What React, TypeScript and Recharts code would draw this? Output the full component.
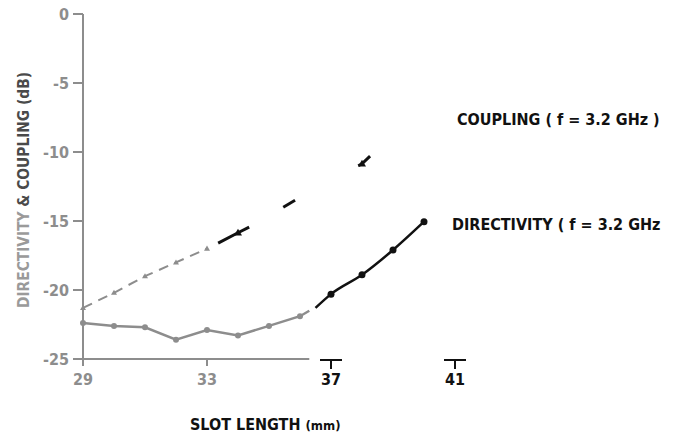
import { ComposedChart, Line, ReferenceLine, XAxis, YAxis } from 'recharts'

// values (slot length in mm, level in dB)
const scanSlots = [29, 30, 31, 32, 33, 34, 35, 36, 36.3]
const directivityScan = [-22.4, -22.6, -22.7, -23.6, -22.9, -23.3, -22.6, -21.9, -21.5]

const inkSlots = [36.5, 37, 38, 39, 40]
const directivityInk = [-21.3, -20.3, -18.9, -17.1, -15.05]

const couplingSlots = [29, 30, 31, 32, 33]
const couplingScan = [-21.3, -20.2, -19.0, -18.0, -17.0]

// faint photocopy: only a few dark fragments of the coupling curve survive
const couplingFragments = [
  { slots: [33.36, 34, 34.36], values: [-16.6, -15.85, -15.45] },
  { slots: [35.46, 35.84], values: [-14.0, -13.5] },
  { slots: [37.88, 38, 38.26], values: [-11.0, -10.85, -10.3] },
]

const xTicks = [29, 33, 37, 41]
const yTicks = [0, -5, -10, -15, -20, -25]
const axisEnd = 36.3

const GRAY = '#8d8d8d'
const INK = '#111111'
const FONT = '"DejaVu Sans Condensed", "DejaVu Sans", sans-serif'

const toRows = (xs: number[], ys: number[]) => xs.map((slot, i) => ({ slot, db: ys[i] }))

const directivityScanRows = toRows(scanSlots, directivityScan)
const directivityInkRows = toRows(inkSlots, directivityInk)
const couplingScanRows = toRows(couplingSlots, couplingScan)
const fragmentRows = couplingFragments.map((f) => toRows(f.slots, f.values))

function roundDot(color: string, r: number) {
  return (props: any) => {
    const { cx, cy, payload, index } = props
    if (!Number.isInteger(payload.slot)) return <g key={`d-${index}`} />
    return <circle key={`d-${index}`} cx={cx} cy={cy} r={r} fill={color} />
  }
}

function triangleDot(color: string, s: number) {
  return (props: any) => {
    const { cx, cy, payload, index } = props
    if (!Number.isInteger(payload.slot)) return <g key={`t-${index}`} />
    return (
      <path
        key={`t-${index}`}
        d={`M ${cx} ${cy - s} L ${cx + s} ${cy + s * 0.7} L ${cx - s} ${cy + s * 0.7} Z`}
        fill={color}
      />
    )
  }
}

function SlotTick(props: any) {
  const { x, y, payload } = props
  const v = payload.value as number
  const dark = v >= 37
  const color = dark ? INK : GRAY
  return (
    <g>
      {dark ? (
        <path
          d={`M ${x - 11} ${y + 1} L ${x + 11} ${y + 1} M ${x} ${y + 1} L ${x} ${y + 10}`}
          stroke={INK}
          strokeWidth={2}
          fill="none"
        />
      ) : (
        <path d={`M ${x} ${y} L ${x} ${y + 7}`} stroke={GRAY} strokeWidth={2} />
      )}
      <text
        x={x}
        y={y + 26}
        textAnchor="middle"
        fill={color}
        fontFamily={FONT}
        fontWeight="bold"
        fontSize={16}
      >
        {v}
      </text>
    </g>
  )
}

function LevelTick(props: any) {
  const { x, y, payload } = props
  const v = payload.value as number
  return (
    <text
      x={x}
      y={y + 6}
      textAnchor="end"
      fill={GRAY}
      fontFamily={FONT}
      fontWeight="bold"
      fontSize={16}
    >
      {v === 0 ? '0' : `-${Math.abs(v)}`}
    </text>
  )
}

export default function App() {
  return (
    <div style={{ position: 'absolute', left: 0, top: 0, width: 673, height: 435, background: '#fff' }}>
      <ComposedChart
        width={673}
        height={435}
        margin={{ top: 14, right: 218, bottom: 46, left: 0 }}
      >
        <XAxis
          type="number"
          dataKey="slot"
          domain={[29, 41]}
          ticks={xTicks}
          axisLine={false}
          tickLine={false}
          tickSize={0}
          tickMargin={0}
          height={30}
          tick={<SlotTick />}
          allowDuplicatedCategory={false}
        />
        <YAxis
          type="number"
          domain={[-25, 0]}
          ticks={yTicks}
          width={83}
          axisLine={{ stroke: GRAY, strokeWidth: 2 }}
          tickLine={{ stroke: GRAY, strokeWidth: 2 }}
          tickSize={10}
          tickMargin={4}
          tick={<LevelTick />}
        />
        <ReferenceLine
          segment={[
            { x: 29, y: -25 },
            { x: axisEnd, y: -25 },
          ]}
          stroke={GRAY}
          strokeWidth={2}
        />
        <Line
          data={couplingScanRows}
          dataKey="db"
          stroke={GRAY}
          strokeWidth={2}
          strokeDasharray="10 7"
          dot={triangleDot(GRAY, 3)}
          activeDot={false}
          isAnimationActive={false}
        />
        {fragmentRows.map((rows, i) => (
          <Line
            key={`frag-${i}`}
            data={rows}
            dataKey="db"
            stroke={INK}
            strokeWidth={3}
            dot={triangleDot(INK, 4)}
            activeDot={false}
            isAnimationActive={false}
          />
        ))}
        <Line
          data={directivityScanRows}
          dataKey="db"
          stroke={GRAY}
          strokeWidth={2.5}
          dot={roundDot(GRAY, 3)}
          activeDot={false}
          isAnimationActive={false}
        />
        <Line
          data={directivityInkRows}
          dataKey="db"
          type="monotone"
          stroke={INK}
          strokeWidth={2.5}
          dot={roundDot(INK, 3.5)}
          activeDot={false}
          isAnimationActive={false}
        />
      </ComposedChart>
      <svg
        width={673}
        height={435}
        style={{ position: 'absolute', left: 0, top: 0, pointerEvents: 'none' }}
        fontFamily={FONT}
        fontWeight="bold"
      >
        <text
          transform="translate(29, 190) rotate(-90)"
          textAnchor="middle"
          fontSize={16}
          textLength={236}
          lengthAdjust="spacingAndGlyphs"
        >
          <tspan fill="#9a9a9a">DIRECTIVITY </tspan>
          <tspan fill="#4a4a4a">&amp; COUPLING (dB)</tspan>
        </text>
        <text x={190} y={430} fill={INK} fontSize={16}>
          SLOT LENGTH <tspan fontSize={13}>(mm)</tspan>
        </text>
        <text x={457} y={125} fill={INK} fontSize={16}>
          COUPLING ( f = 3.2 GHz )
        </text>
        <text x={452} y={230} fill={INK} fontSize={16}>
          DIRECTIVITY ( f = 3.2 GHz
        </text>
      </svg>
    </div>
  )
}
